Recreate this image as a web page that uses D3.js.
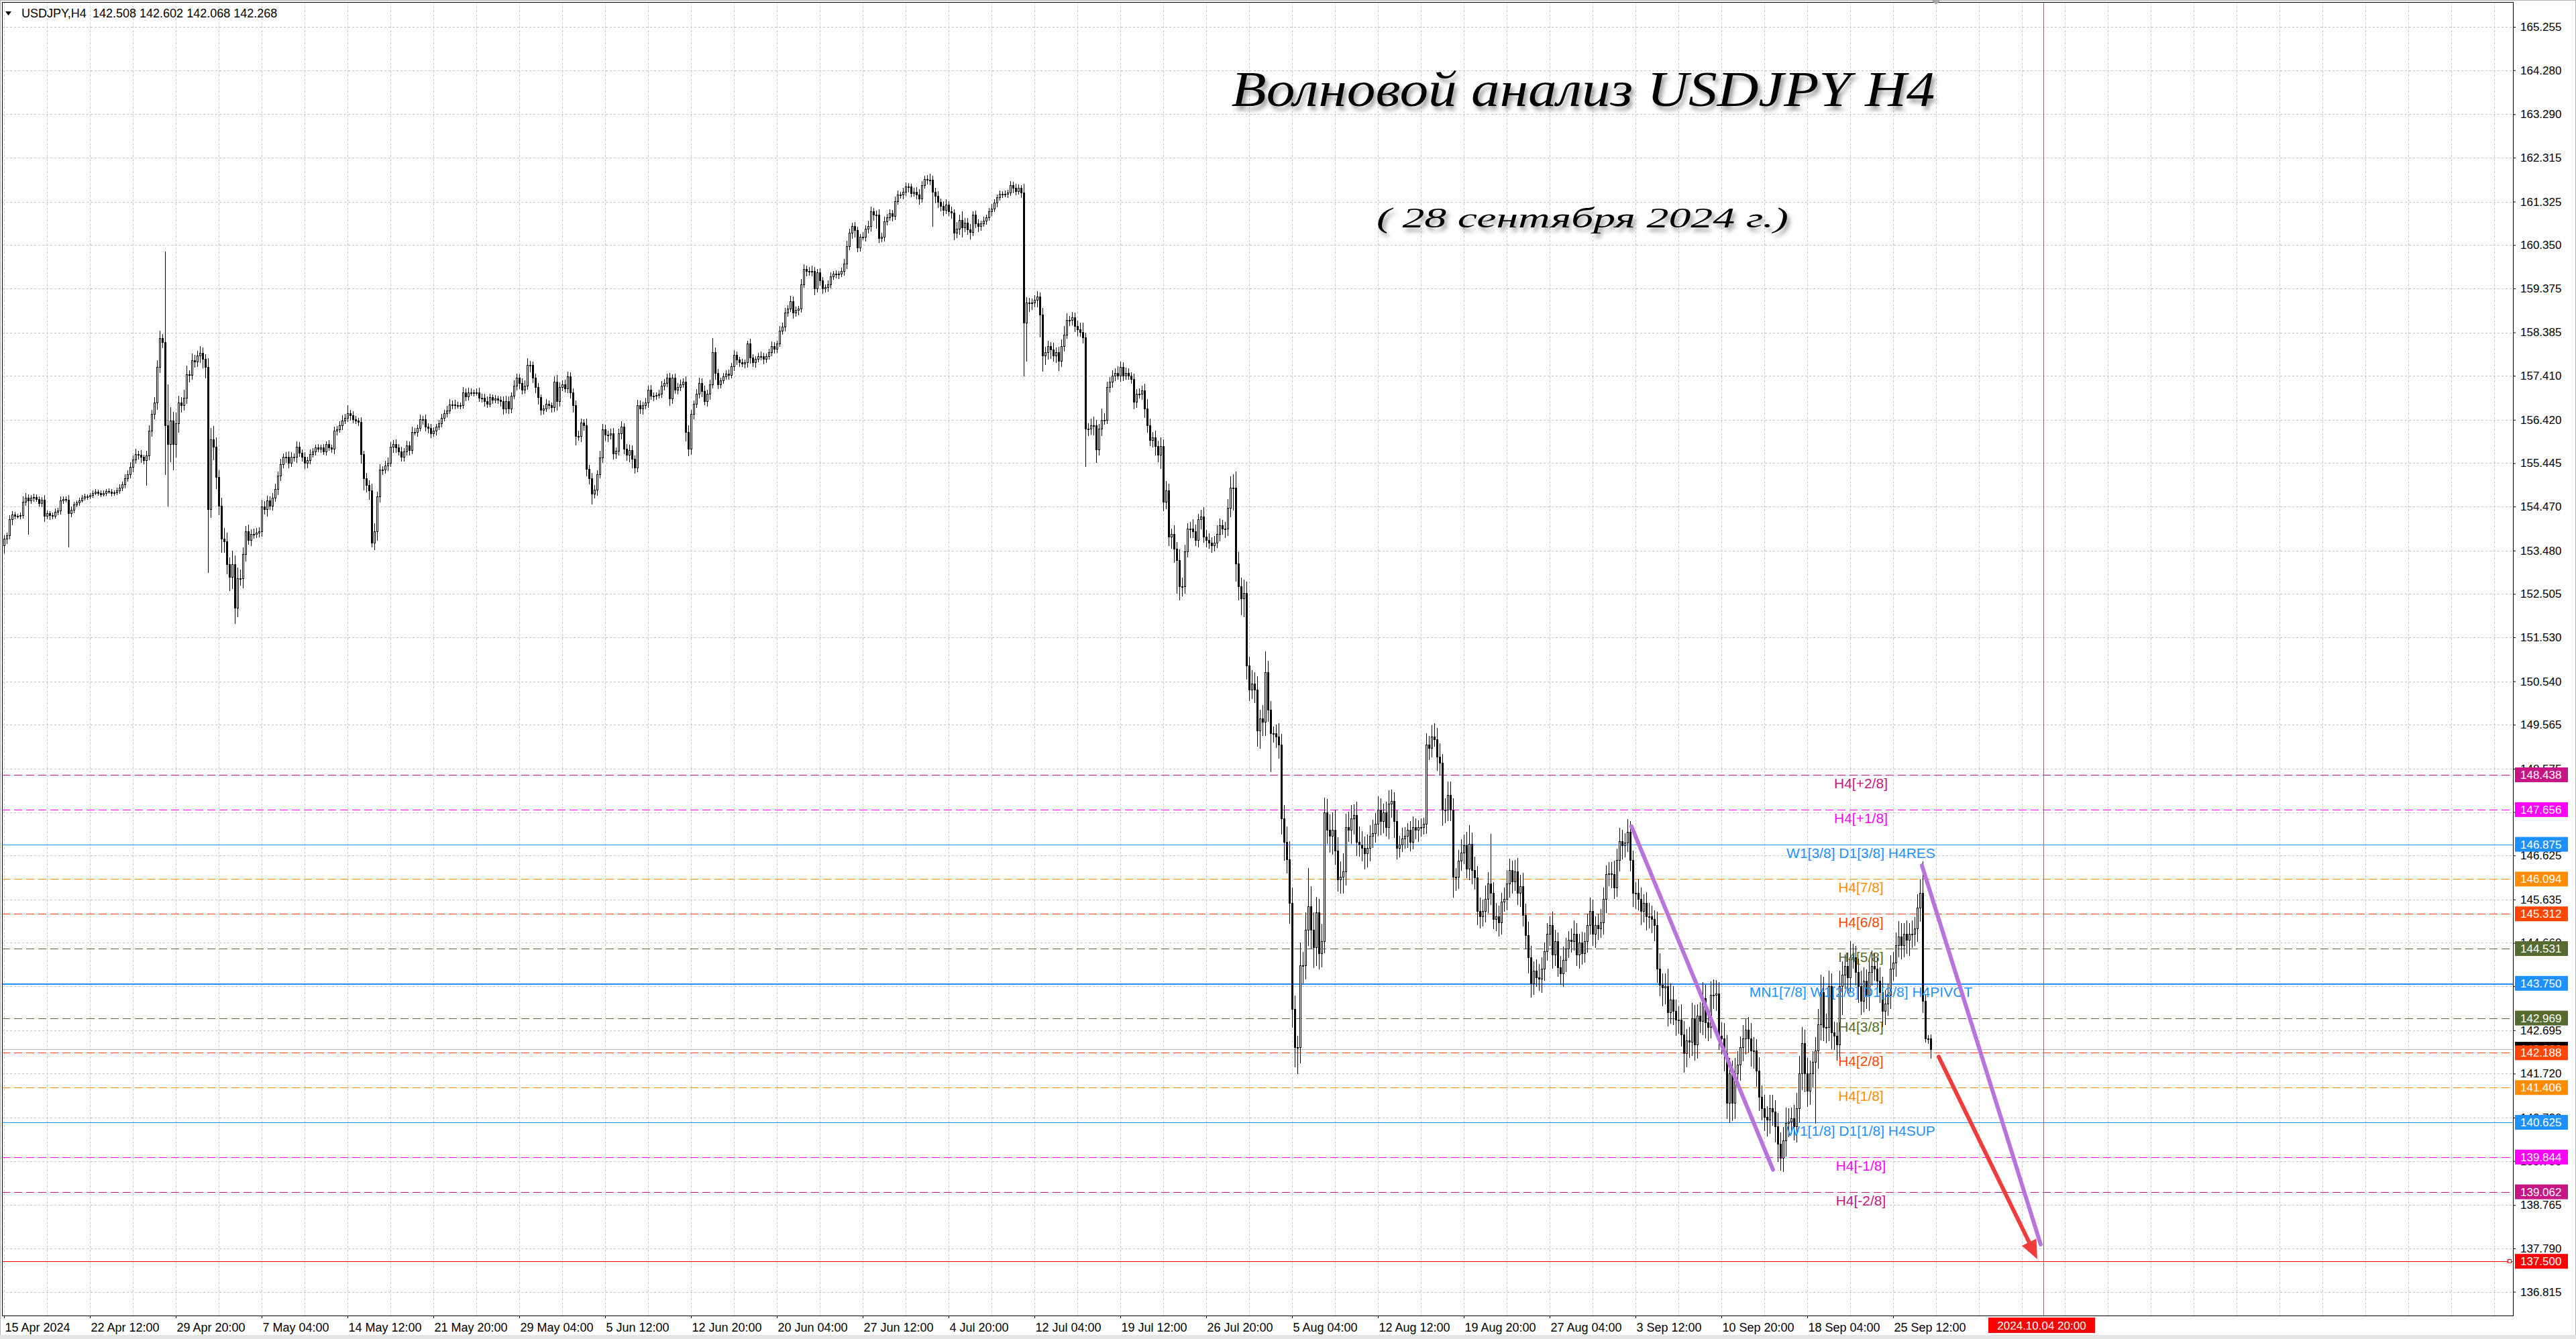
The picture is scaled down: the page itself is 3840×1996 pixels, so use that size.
<!DOCTYPE html>
<html lang="ru">
<head>
<meta charset="UTF-8" />
<title>USDJPY H4</title>
<script src="https://d3js.org/d3.v7.min.js"></script>
<style>
  html, body { margin: 0; padding: 0; background: #fff; }
  svg { display: block; }
  .axis text { font-family: "Liberation Sans", Arial, sans-serif; font-size: 17px; fill: #000; }
  .axis.time text { font-size: 18px; }
  .axis line { stroke: #000; }
</style>
</head>
<body>
<div id="chart"></div>
<script>
// H4 bars, bar 0 = 15 Apr 2024 04:00, last bar = 27 Sep 2024 20:00
const firstOpen = 153.60;

// closes 15 Apr - 24 May (one row per week)
const close1 = [
  153.74,153.83,154.18,154.29,154.26,154.26,154.27,154.58,154.67,154.61,154.67,154.68,154.64,154.55,154.62,154.26,154.32,154.27,154.26,154.35,154.38,154.61,154.64,154.62,154.32,154.39,154.52,154.56,154.61,
  154.67,154.70,154.69,154.73,154.78,154.81,154.78,154.75,154.78,154.82,154.81,154.77,154.79,154.83,154.89,154.97,155.10,155.20,155.36,155.53,155.65,155.64,155.58,155.51,155.62,156.17,156.55,156.81,157.61,158.25,
  158.16,156.29,155.88,156.40,155.88,156.34,156.81,156.75,156.92,157.44,157.43,157.76,157.73,157.87,157.93,157.79,157.61,154.41,155.98,155.82,155.13,154.49,153.74,153.69,153.17,152.88,153.17,152.19,152.85,152.85,
  153.40,153.92,153.72,153.86,153.86,153.89,153.92,154.47,154.41,154.61,154.49,154.67,154.87,155.16,155.42,155.59,155.59,155.45,155.59,155.59,155.82,155.68,155.59,155.45,155.51,155.65,155.71,155.80,155.77,155.80,
  155.71,155.88,155.80,155.77,156.17,156.20,156.29,156.40,156.46,156.57,156.52,156.43,156.40,156.37,155.65,155.10,154.96,154.84,153.66,153.92,154.70,155.30,155.30,155.39,155.45,155.82,155.88,155.80,155.71,155.59,
  155.71,155.85,155.74,156.14,156.14,156.23,156.43,156.43,156.26,156.23,156.11,156.17,156.26,156.34,156.46,156.57,156.63,156.77,156.77,156.75,156.75,156.75,157.04,156.95,157.04,157.04,157.04,157.04,156.92,156.92
];
// closes 27 May - 5 Jul
const close2 = [
  156.84,156.78,156.93,156.87,156.90,156.87,156.84,156.67,156.84,156.67,156.96,157.19,157.36,157.25,157.10,157.19,157.65,157.65,157.36,157.16,156.93,156.64,156.67,156.78,156.75,156.70,157.27,156.84,157.16,157.22,
  157.13,157.39,157.04,156.75,156.06,156.06,156.35,156.29,155.31,155.11,154.76,154.85,155.20,155.57,156.21,156.09,156.09,156.12,155.66,155.72,156.12,156.26,155.77,155.63,155.74,155.54,155.34,156.75,156.67,156.75,
  156.81,157.10,156.96,156.96,156.98,157.01,157.19,157.25,157.36,156.90,157.36,157.10,157.16,157.22,157.27,156.15,155.77,156.55,156.78,157.01,157.25,157.07,156.84,157.01,157.22,157.94,157.48,157.22,157.30,157.39,
  157.45,157.42,157.62,157.88,157.77,157.71,157.68,157.71,158.14,157.82,157.71,157.79,157.85,157.85,157.79,157.85,157.94,158.08,158.02,158.14,158.43,158.52,158.83,158.92,159.09,158.83,158.89,158.92,159.47,159.81,
  159.76,159.76,159.76,159.38,159.73,159.55,159.38,159.41,159.47,159.64,159.70,159.70,159.70,159.76,159.93,160.33,160.62,160.77,160.68,160.30,160.54,160.54,160.71,160.77,161.11,161.03,161.03,160.51,160.54,160.88,
  160.97,161.06,161.00,161.34,161.49,161.49,161.55,161.66,161.66,161.52,161.55,161.49,161.40,161.69,161.83,161.81,161.81,161.55,161.46,161.32,161.23,161.14,161.26,161.11,161.08,160.62,160.71,160.91,160.74,160.85
];
// closes 8 Jul - 16 Aug
const close3 = [
  160.70,160.64,161.03,160.84,160.77,160.84,160.90,160.97,161.10,161.17,161.30,161.43,161.50,161.50,161.50,161.53,161.69,161.63,161.56,161.63,161.53,158.60,159.06,159.06,159.06,159.12,159.19,158.79,157.87,157.94,
  158.07,158.00,157.87,157.94,157.74,158.07,158.33,158.66,158.66,158.73,158.53,158.46,158.40,158.27,156.22,156.22,156.29,156.29,155.76,156.22,156.42,156.42,157.15,157.28,157.41,157.48,157.41,157.61,157.41,157.48,
  157.41,157.34,156.82,157.01,157.01,157.08,156.68,156.29,155.96,156.03,155.83,155.63,155.83,154.58,154.84,153.79,153.85,153.52,153.26,152.67,152.67,153.46,153.98,153.98,153.92,153.72,154.18,154.25,153.79,153.72,
  153.65,153.59,153.65,153.85,154.05,153.98,153.98,154.44,154.90,154.90,153.19,152.67,152.40,152.53,150.89,150.36,150.49,150.36,149.44,149.70,149.63,150.75,149.90,149.37,149.37,149.30,149.11,147.46,146.93,146.54,
  145.55,143.17,142.32,142.32,144.16,144.16,144.95,145.48,144.95,144.56,145.35,144.43,144.69,147.59,147.20,147.06,147.20,146.73,146.08,146.14,146.27,147.26,147.20,147.46,147.53,146.93,146.87,146.80,146.67,146.80,
  147.06,147.13,147.33,147.66,147.39,147.59,147.26,147.79,147.85,147.39,146.80,146.87,147.00,147.06,147.20,146.93,147.26,147.20,147.26,147.26,147.33,149.11,149.04,149.30,149.24,148.84,148.71,147.66,147.66,147.99
];
// closes 19 Aug - 27 Sep
const close4 = [
  147.66,146.14,146.14,146.50,146.69,146.85,146.33,146.89,146.30,146.13,145.38,145.25,145.38,145.65,146.00,145.78,145.19,145.25,145.12,145.58,145.65,146.00,146.30,146.04,146.27,145.78,145.94,145.29,144.83,144.34,
  143.75,144.04,143.88,143.85,144.08,144.47,144.86,145.06,144.40,144.70,144.11,143.98,144.27,144.53,144.73,144.70,144.86,144.40,144.66,144.43,144.70,145.06,145.38,144.86,145.06,144.99,145.12,145.65,146.20,146.22,
  146.20,145.91,146.53,146.95,146.85,146.92,147.15,146.53,145.78,145.78,145.65,145.38,145.55,145.25,145.25,145.19,145.06,144.08,143.72,143.65,143.68,143.10,143.39,143.13,142.93,142.93,142.60,142.18,142.47,142.44,
  142.96,142.38,143.03,142.90,143.42,142.87,142.77,143.49,143.49,143.52,142.57,142.51,142.18,141.07,141.72,141.07,141.72,141.92,142.31,142.51,142.70,142.51,142.24,142.24,141.79,141.20,140.94,140.74,140.68,140.94,
  140.87,140.54,140.15,139.83,140.22,140.61,140.64,140.71,140.54,140.94,141.72,142.41,141.72,141.33,141.72,141.98,142.24,142.83,143.55,142.77,142.77,143.68,142.64,142.57,142.38,143.68,143.94,144.14,143.88,144.34,
  144.34,144.01,143.68,143.36,143.81,143.49,144.01,144.14,144.08,143.81,143.55,143.13,143.29,143.49,144.08,144.21,144.60,144.80,144.60,144.86,144.73,144.86,144.86,144.99,145.45,145.78,143.36,142.51,142.51,142.27
];

// upper / lower shadows, in 0.01 yen
const upWick1 = [
  8,6,10,8,6,5,6,12,10,8,6,8,6,5,6,10,6,5,6,8,6,8,6,5,10,8,6,5,6,
  5,6,5,4,6,5,4,6,5,4,6,5,4,6,8,6,10,8,10,8,12,8,10,6,10,12,10,12,15,17,
  10,205,92,30,20,25,15,12,18,20,10,15,12,10,15,12,10,20,25,30,20,15,18,25,20,15,30,20,25,20,
  15,12,15,10,12,10,8,15,12,10,8,10,12,10,12,8,10,12,10,8,12,10,8,10,8,10,8,6,8,6,
  8,6,8,6,10,8,10,12,10,18,8,10,8,6,10,8,12,10,15,18,10,12,8,10,12,10,8,10,8,10,
  8,10,8,12,10,8,10,8,10,8,10,8,6,8,10,8,10,12,8,10,8,6,12,8,10,8,6,8,10,8
];
const dnWick1 = [
  17,10,8,12,6,5,6,5,8,75,6,8,5,6,8,12,6,8,6,5,6,8,6,5,75,8,6,5,6,
  4,5,6,4,5,4,6,5,4,5,4,6,5,4,5,6,8,6,8,10,8,10,12,8,55,10,12,10,15,12,
  12,110,139,40,58,30,20,15,10,12,15,10,12,10,15,20,25,142,18,30,25,20,30,25,20,30,25,35,20,15,
  20,15,10,12,10,8,10,12,10,15,8,10,8,12,10,8,12,10,8,10,12,8,10,12,10,8,6,8,6,8,
  6,8,6,8,10,8,6,8,6,8,10,8,6,8,20,25,15,20,10,15,20,12,10,8,10,8,12,10,8,10,
  10,8,10,8,6,8,6,10,8,10,8,6,8,6,8,6,8,6,10,8,6,8,6,10,8,6,8,6,8,10
];
const upWick2 = [
  8,10,8,6,8,6,8,10,12,10,8,12,10,8,10,12,15,10,8,10,8,6,8,10,8,6,12,15,10,8,
  10,12,10,8,10,12,10,8,15,10,12,10,8,15,12,10,8,10,12,8,10,12,8,10,12,10,8,12,10,8,
  10,8,10,8,6,8,10,8,10,12,8,10,8,10,8,12,15,10,8,10,12,10,12,8,10,32,10,8,6,8,
  8,10,8,10,8,6,8,6,6,10,8,6,8,10,8,6,8,10,8,6,10,8,10,8,12,10,8,6,12,10,
  8,10,12,10,8,10,8,6,8,10,6,8,6,8,10,12,10,8,10,8,6,10,8,12,10,8,10,12,8,10,
  8,10,8,10,8,6,8,10,8,6,8,10,12,10,8,9,14,10,8,10,8,10,12,8,10,8,15,12,20,10
];
const dnWick2 = [
  10,8,6,8,6,8,10,12,8,10,8,6,10,12,10,8,8,15,10,12,15,10,8,6,8,10,8,20,10,8,
  8,10,12,15,20,10,12,10,15,12,23,10,12,8,10,12,15,10,12,10,8,12,10,12,15,20,12,8,10,12,
  8,10,8,10,8,6,8,10,8,15,10,8,10,8,6,20,15,12,10,8,10,12,8,10,12,8,15,10,8,6,
  6,8,6,8,10,8,6,8,10,12,8,10,6,8,10,8,6,8,10,8,6,8,10,8,6,12,8,10,8,6,
  10,8,10,15,8,10,12,8,10,8,6,8,10,6,8,10,8,12,15,10,8,6,10,8,10,12,30,10,8,10,
  8,6,10,8,6,8,10,8,12,8,6,10,12,8,6,8,10,78,15,12,10,12,8,10,12,15,10,12,20,8
];
const upWick3 = [
  10,12,8,10,8,6,8,6,8,10,8,6,8,6,8,6,10,8,10,8,6,20,12,10,8,10,12,10,15,12,
  12,10,15,10,12,15,20,15,10,12,10,12,15,20,10,12,15,20,12,10,25,15,12,10,12,10,15,12,10,12,
  10,8,12,10,12,10,15,20,15,12,15,12,20,15,20,15,12,20,15,25,20,15,12,15,20,15,12,15,20,15,
  15,12,15,20,15,12,15,20,25,30,35,25,20,30,25,20,30,25,30,20,30,47,25,20,15,20,30,25,30,35,
  40,35,30,25,50,30,40,86,45,40,35,30,40,33,30,35,40,45,30,35,40,30,35,30,25,30,35,30,25,30,
  25,30,25,30,25,20,25,30,25,20,25,20,25,20,15,20,25,20,15,20,15,26,20,26,30,25,30,20,25,30
];
const dnWick3 = [
  10,15,8,10,12,8,6,8,6,8,6,8,6,8,6,8,6,10,8,6,10,119,86,20,15,10,15,50,35,20,
  15,20,12,15,20,12,10,8,12,10,12,15,10,12,85,15,12,20,30,12,15,10,8,10,12,10,8,12,10,8,
  8,10,15,12,10,12,20,15,12,15,20,15,30,20,15,20,25,30,73,30,20,15,12,20,15,12,15,20,12,15,
  12,15,12,10,15,12,20,15,20,50,40,30,35,40,30,25,20,30,35,40,30,30,25,86,20,25,30,35,40,30,
  45,40,45,60,35,40,30,35,40,45,40,35,30,25,30,35,40,30,25,30,35,30,25,30,35,30,25,30,35,30,
  30,25,20,25,30,25,20,25,30,35,25,20,15,20,25,20,15,20,25,20,15,20,25,20,15,30,25,35,30,25
];
const upWick4 = [
  30,25,20,25,30,25,30,42,25,30,25,30,25,30,25,111,25,30,25,20,25,30,25,20,25,30,25,30,25,30,
  25,20,25,30,25,20,25,20,30,25,20,25,30,25,20,25,30,25,20,25,20,25,30,25,20,25,30,25,20,25,
  25,30,25,30,25,20,30,25,20,25,30,25,20,25,30,25,20,30,35,25,30,40,35,30,25,30,35,30,25,30,
  35,30,25,30,35,30,25,30,35,30,25,30,35,40,35,30,35,30,25,30,25,30,35,30,25,30,25,30,25,30,
  30,25,30,25,30,35,30,25,30,35,40,35,30,35,30,25,30,35,40,35,30,35,30,25,30,35,30,25,30,35,
  30,25,30,35,30,25,30,35,30,25,30,35,30,25,30,25,30,35,30,25,30,25,30,25,30,30,71,13,8,9
];
const dnWick4 = [
  25,45,30,25,20,25,20,25,30,25,30,25,20,25,30,25,20,25,30,25,20,25,30,25,20,25,30,25,30,35,
  30,25,20,25,30,25,20,25,30,25,20,25,30,25,20,25,20,25,30,25,20,25,20,25,30,25,20,25,30,25,
  30,25,20,25,30,25,20,25,30,35,25,30,25,30,25,30,35,30,25,40,35,30,25,30,35,30,25,43,30,35,
  30,35,30,25,30,35,30,25,30,35,30,35,40,35,45,40,35,30,35,30,35,30,35,40,35,30,25,30,35,30,
  30,35,40,27,30,35,30,25,30,35,30,35,40,35,30,30,137,40,35,30,35,30,35,30,35,30,63,30,35,30,
  25,30,35,30,25,30,35,30,25,30,23,35,30,25,30,25,30,25,30,25,30,35,30,25,30,30,26,7,10,20
];

// right price scale labels
const priceTicks = [165.255,164.280,163.290,162.315,161.325,160.350,159.375,158.385,157.410,156.420,
  155.445,154.470,153.480,152.505,151.530,150.540,149.565,148.575,147.600,146.625,145.635,144.660,
  143.685,142.695,141.720,140.730,139.755,138.765,137.790,136.815];

// time scale labels, one every 32 bars
const timeLabels = ["15 Apr 2024","22 Apr 12:00","29 Apr 20:00","7 May 04:00","14 May 12:00","21 May 20:00",
  "29 May 04:00","5 Jun 12:00","12 Jun 20:00","20 Jun 04:00","27 Jun 12:00","4 Jul 20:00","12 Jul 04:00",
  "19 Jul 12:00","26 Jul 20:00","5 Aug 04:00","12 Aug 12:00","19 Aug 20:00","27 Aug 04:00","3 Sep 12:00",
  "10 Sep 20:00","18 Sep 04:00","25 Sep 12:00"];

// Murrey levels
const levelPrices = [148.438,147.656,146.875,146.094,145.312,144.531,143.750,142.969,142.188,141.406,140.625,139.844,139.062];
const levelNames = ["H4[+2/8]","H4[+1/8]","W1[3/8] D1[3/8] H4RES","H4[7/8]","H4[6/8]","H4[5/8]",
  "MN1[7/8] W1[2/8] D1[2/8] H4PIVOT","H4[3/8]","H4[2/8]","H4[1/8]","W1[1/8] D1[1/8] H4SUP","H4[-1/8]","H4[-2/8]"];
const targetPrice = 137.500;
const lastPrice = 142.268;
const header = ["USDJPY,H4", "142.508 142.602 142.068 142.268"];

// drawn objects (bar index, price)
const markerBar = 760, markerLabel = "2024.10.04 20:00";
const wave1 = [[606.5, 147.28], [659.25, 139.56]];
const wave2 = [[714.75, 146.40], [759, 137.88]];
const forecast = [[721, 142.10], [757.75, 137.55]];
const labelBar = 692;

// ---- styles ----
const levelStyle = {
  "H4[+2/8]": { color: "#c71585", dash: "12,6", width: 1 },
  "H4[+1/8]": { color: "#ff00ff", dash: "12,6", width: 1 },
  "W1[3/8] D1[3/8] H4RES": { color: "#1e90ff", dash: null, width: 1 },
  "H4[7/8]": { color: "#ff8c00", dash: "12,6", width: 1 },
  "H4[6/8]": { color: "#ff4500", dash: "12,6", width: 1 },
  "H4[5/8]": { color: "#556b2f", dash: "12,6", width: 1 },
  "MN1[7/8] W1[2/8] D1[2/8] H4PIVOT": { color: "#1e90ff", dash: null, width: 2 },
  "H4[3/8]": { color: "#556b2f", dash: "12,6", width: 1 },
  "H4[2/8]": { color: "#ff4500", dash: "12,6", width: 1 },
  "H4[1/8]": { color: "#ff8c00", dash: "12,6", width: 1 },
  "W1[1/8] D1[1/8] H4SUP": { color: "#1e90ff", dash: null, width: 1 },
  "H4[-1/8]": { color: "#ff00ff", dash: "12,6", width: 1 },
  "H4[-2/8]": { color: "#c71585", dash: "12,6", width: 1 }
};
const FONT = '"Liberation Sans", Arial, sans-serif';

const W = 3840, H = 1996;
const plot = { left: 3, top: 3, right: 3746, bottom: 1961 };

const closes = [].concat(close1, close2, close3, close4);
const upW = [].concat(upWick1, upWick2, upWick3, upWick4);
const dnW = [].concat(dnWick1, dnWick2, dnWick3, dnWick4);
const bars = closes.map((c, i) => {
  const o = i === 0 ? firstOpen : closes[i - 1];
  return { i, o, c,
    h: Math.max(o, c) + (upW[i] || 0) / 100,
    l: Math.min(o, c) - (dnW[i] || 0) / 100 };
});

const x = d3.scaleLinear().domain([0, markerBar]).range([6, 3046]);
const y = d3.scaleLinear().domain([137.5, 148.438]).range([1880.2, 1155]);

const svg = d3.select("#chart").append("svg").attr("width", W).attr("height", H);
const defs = svg.append("defs");
defs.append("clipPath").attr("id", "plotClip").append("rect")
  .attr("x", plot.left).attr("y", plot.top)
  .attr("width", plot.right - plot.left).attr("height", plot.bottom - plot.top);
const shadow = defs.append("filter").attr("id", "shadow")
  .attr("x", "-5%").attr("y", "-30%").attr("width", "112%").attr("height", "170%");
shadow.append("feDropShadow").attr("dx", 4).attr("dy", 6).attr("stdDeviation", 3)
  .attr("flood-color", "#000").attr("flood-opacity", 0.4);

svg.append("rect").attr("x", 0.5).attr("y", 0.5).attr("width", W - 1).attr("height", H - 1)
  .attr("fill", "#fff").attr("stroke", "#b4b4b4");
svg.append("rect").attr("x", 0).attr("y", H - 6).attr("width", W).attr("height", 6).attr("fill", "#e4e4e4");

// grid
const grid = svg.append("g").attr("clip-path", "url(#plotClip)")
  .attr("stroke", "#c4c4c4").attr("stroke-dasharray", "3,3").attr("shape-rendering", "crispEdges");
grid.selectAll("line.h").data(priceTicks).join("line").attr("class", "h")
  .attr("x1", plot.left).attr("x2", plot.right)
  .attr("y1", d => Math.round(y(d)) + 0.5).attr("y2", d => Math.round(y(d)) + 0.5);
grid.selectAll("line.v").data(d3.range(0, markerBar + 200, 16)).join("line").attr("class", "v")
  .attr("x1", d => x(d) + 0.5).attr("x2", d => x(d) + 0.5)
  .attr("y1", plot.top).attr("y2", plot.bottom);

// level lines
const lv = svg.append("g").attr("clip-path", "url(#plotClip)").attr("shape-rendering", "crispEdges");
levelPrices.forEach((p, k) => {
  const s = levelStyle[levelNames[k]];
  lv.append("line").attr("x1", plot.left).attr("x2", plot.right)
    .attr("y1", Math.round(y(p)) + 0.5).attr("y2", Math.round(y(p)) + 0.5)
    .attr("stroke", s.color).attr("stroke-width", s.width)
    .attr("stroke-dasharray", s.dash);
});
lv.append("line").attr("x1", plot.left).attr("x2", plot.right)
  .attr("y1", Math.round(y(lastPrice)) + 0.5).attr("y2", Math.round(y(lastPrice)) + 0.5)
  .attr("stroke", "#b8b8b8");
lv.append("line").attr("x1", plot.left).attr("x2", plot.right)
  .attr("y1", Math.round(y(targetPrice)) + 0.5).attr("y2", Math.round(y(targetPrice)) + 0.5)
  .attr("stroke", "#ff0000");
lv.append("rect").attr("x", plot.right - 7.5).attr("y", Math.round(y(targetPrice)) - 2.5)
  .attr("width", 5).attr("height", 5).attr("fill", "#fff").attr("stroke", "#ff0000");
lv.append("line").attr("x1", x(markerBar) + 0.5).attr("x2", x(markerBar) + 0.5)
  .attr("y1", plot.top).attr("y2", plot.bottom).attr("stroke", "#8a6a6a");

// candles
const cg = svg.append("g").attr("clip-path", "url(#plotClip)").attr("shape-rendering", "crispEdges");
cg.selectAll("line.wick").data(bars).join("line").attr("class", "wick")
  .attr("x1", d => x(d.i) + 0.5).attr("x2", d => x(d.i) + 0.5)
  .attr("y1", d => Math.round(y(d.h))).attr("y2", d => Math.round(y(d.l)) + 1)
  .attr("stroke", "#000");
cg.selectAll("rect.body").data(bars).join("rect").attr("class", "body")
  .attr("x", d => x(d.i) - 0.5).attr("width", 2)
  .attr("y", d => Math.round(y(Math.max(d.o, d.c))) + 0.5)
  .attr("height", d => Math.max(1, Math.round(y(Math.min(d.o, d.c))) - Math.round(y(Math.max(d.o, d.c)))))
  .attr("fill", d => d.c >= d.o ? "#fff" : "#000").attr("stroke", "#000");

// level captions
const lt = svg.append("g").attr("font-family", FONT).attr("font-size", 21).attr("text-anchor", "middle");
levelPrices.forEach((p, k) => {
  lt.append("text").attr("x", x(labelBar)).attr("y", y(p) + 20)
    .attr("fill", levelStyle[levelNames[k]].color).text(levelNames[k]);
});

// wave lines and forecast arrow
const line = d3.line().x(d => x(d[0])).y(d => y(d[1]));
[wave1, wave2].forEach(w => svg.append("path").attr("d", line(w))
  .attr("fill", "none").attr("stroke", "#b873dd").attr("stroke-width", 6).attr("stroke-linecap", "round"));
const a0 = [x(forecast[0][0]), y(forecast[0][1])], a1 = [x(forecast[1][0]), y(forecast[1][1])];
const len = Math.hypot(a1[0] - a0[0], a1[1] - a0[1]);
const u = [(a1[0] - a0[0]) / len, (a1[1] - a0[1]) / len], nrm = [-u[1], u[0]];
const base = [a1[0] - u[0] * 28, a1[1] - u[1] * 28];
svg.append("line").attr("x1", a0[0]).attr("y1", a0[1]).attr("x2", base[0] + u[0] * 4).attr("y2", base[1] + u[1] * 4)
  .attr("stroke", "#f23c3c").attr("stroke-width", 6).attr("stroke-linecap", "round");
svg.append("polygon").attr("fill", "#f23c3c")
  .attr("points", [a1, [base[0] + nrm[0] * 12, base[1] + nrm[1] * 12], [base[0] - nrm[0] * 12, base[1] - nrm[1] * 12]]
    .map(p => p.join(",")).join(" "));

// axes
const yAxisG = svg.append("g").attr("class", "axis").attr("transform", `translate(${plot.right},0)`)
  .call(d3.axisRight(y).tickValues(priceTicks).tickFormat(d3.format(".3f")).tickSize(4).tickPadding(7));
yAxisG.select(".domain").remove();
const xAxisG = svg.append("g").attr("class", "axis time").attr("transform", `translate(0,${plot.bottom})`)
  .call(d3.axisBottom(x).tickValues(timeLabels.map((_, k) => k * 32))
    .tickFormat((d, k) => timeLabels[k]).tickSize(4).tickPadding(7));
xAxisG.select(".domain").remove();
xAxisG.selectAll("text").attr("text-anchor", "start").attr("x", 1);

// frame
svg.append("rect").attr("x", plot.left + 0.5).attr("y", plot.top + 0.5)
  .attr("width", plot.right - plot.left).attr("height", plot.bottom - plot.top)
  .attr("fill", "none").attr("stroke", "#000").attr("shape-rendering", "crispEdges");

// price boxes on the scale
const boxes = svg.append("g").attr("font-family", FONT).attr("font-size", 17);
function priceBox(p, color) {
  const yy = y(p);
  boxes.append("rect").attr("x", plot.right + 3).attr("y", yy - 11).attr("width", 79).attr("height", 22).attr("fill", color);
  boxes.append("text").attr("x", plot.right + 11).attr("y", yy).attr("dy", "0.35em").attr("fill", "#fff").text(p.toFixed(3));
}
priceBox(lastPrice, "#000");
levelPrices.forEach((p, k) => priceBox(p, levelStyle[levelNames[k]].color));
priceBox(targetPrice, "#ff0000");

// future time marker label
svg.append("rect").attr("x", x(markerBar) - 82).attr("y", plot.bottom + 3).attr("width", 159).attr("height", 23).attr("fill", "#ff0000");
svg.append("text").attr("x", x(markerBar) - 2.5).attr("y", plot.bottom + 15).attr("dy", "0.35em")
  .attr("text-anchor", "middle").attr("font-family", FONT).attr("font-size", 17).attr("fill", "#fff").text(markerLabel);

// chart shift marker
svg.append("polygon").attr("fill", "#a8a8a8")
  .attr("points", `${x(720) - 7},0 ${x(720) + 7},0 ${x(720)},7`);

// header
svg.append("polygon").attr("points", "8,17 17,17 12.5,23").attr("fill", "#000");
svg.append("text").attr("x", 32).attr("y", 26).attr("font-family", FONT).attr("font-size", 18).text(header[0]);
svg.append("text").attr("x", 138).attr("y", 26).attr("font-family", FONT).attr("font-size", 18).text(header[1]);

// title
svg.append("text").attr("x", 2360).attr("y", 158).attr("text-anchor", "middle")
  .attr("font-family", '"Liberation Serif", "DejaVu Serif", serif').attr("font-style", "italic")
  .attr("font-size", 74).attr("textLength", 1049).attr("lengthAdjust", "spacingAndGlyphs")
  .attr("filter", "url(#shadow)").text("Волновой анализ USDJPY H4");
svg.append("text").attr("x", 2359).attr("y", 339).attr("text-anchor", "middle")
  .attr("font-family", '"Liberation Serif", "DejaVu Serif", serif').attr("font-style", "italic")
  .attr("font-size", 42).attr("textLength", 614).attr("lengthAdjust", "spacingAndGlyphs")
  .attr("filter", "url(#shadow)").text("( 28 сентября 2024 г.)");
</script>
</body>
</html>
